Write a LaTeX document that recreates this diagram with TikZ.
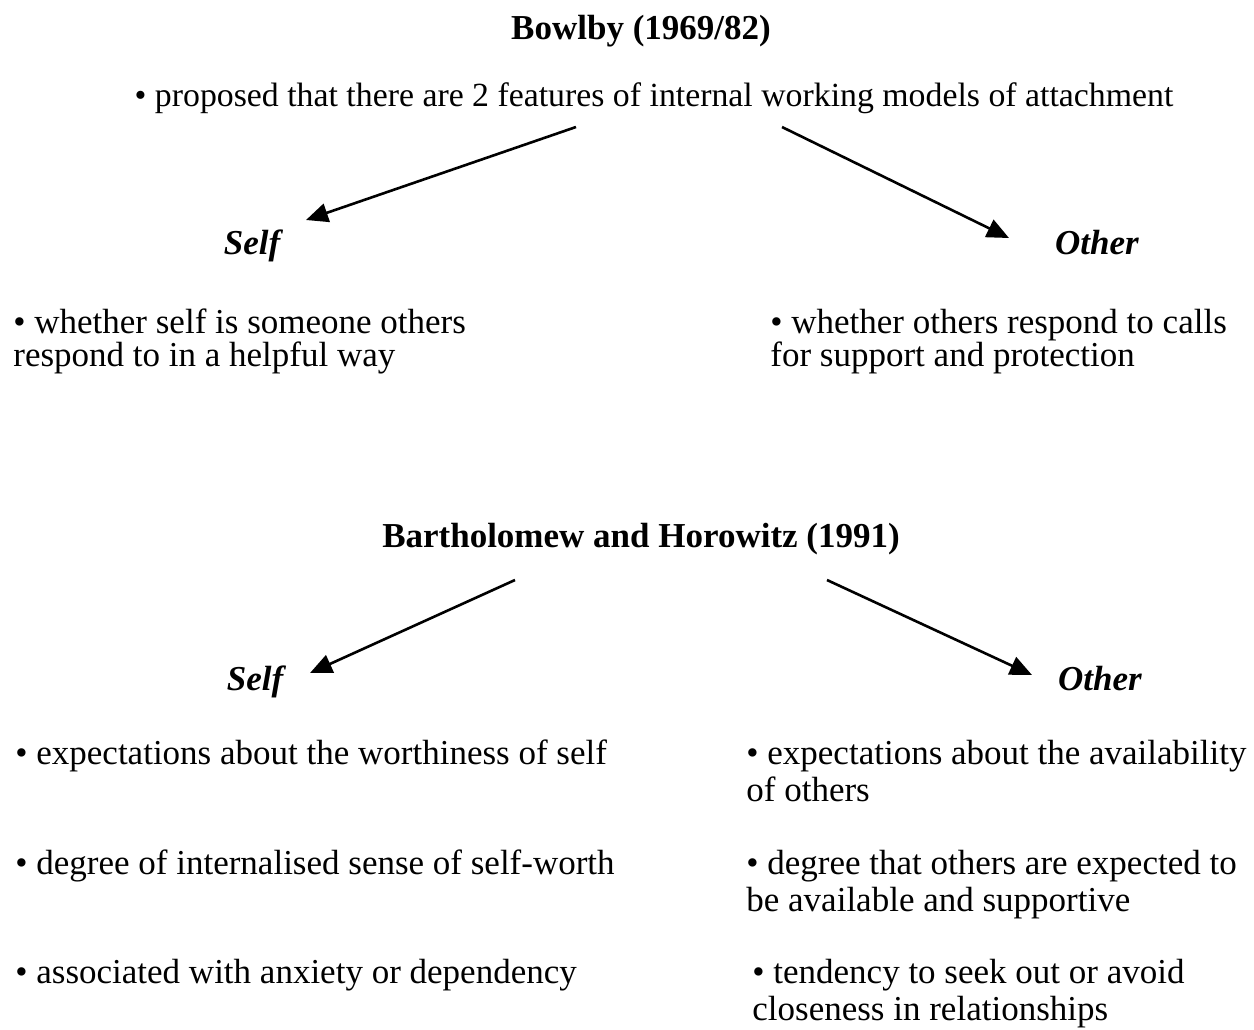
\documentclass[tikz,border=0pt]{standalone}
\usepackage{fontspec}
\setmainfont{Liberation Serif}
\usepackage{tikz}
\usetikzlibrary{arrows.meta}

\tikzset{
  txt/.style={inner sep=0pt, font=\fontsize{17.5}{16.5}\selectfont, align=left, anchor=base west},
  txtwide/.style={txt, font=\fontsize{17.5}{18.5}\selectfont},
  ttl/.style={inner sep=0pt, font=\fontsize{17.5}{16.5}\selectfont\bfseries, anchor=base},
  side/.style={inner sep=0pt, font=\fontsize{17.5}{16.5}\selectfont\bfseries\itshape, anchor=base},
  arr/.style={-{Triangle[length=11pt,width=9.5pt]}, line width=1.3pt}
}

\begin{document}
\begin{tikzpicture}[x=0.5pt,y=-0.5pt]
\useasboundingbox (0,0) rectangle (1254,1029);

% Bowlby
\node[ttl] (bowlby) at (641,39) {Bowlby (1969/82)};
\node[txt, anchor=base, font=\fontsize{16.9}{16.5}\selectfont] (prop) at (654,106) {\textbullet\ proposed that there are 2 features of internal working models of attachment};

\coordinate (b1s) at (576,127); \coordinate (b1e) at (306,220);
\coordinate (b2s) at (782,127); \coordinate (b2e) at (1009,238);
\draw [arr] (b1s) -- (b1e);
\draw [arr] (b2s) -- (b2e);

\node[side] (selfA) at (252,254) {Self};
\node[side] (otherA) at (1097,254) {Other};

% last line baselines
\node[txt] (selfAtxt) at (13,366) {\textbullet\ whether self is someone others\\respond to in a helpful way};
\node[txt] (otherAtxt) at (770,366) {\textbullet\ whether others respond to calls\\for support and protection};

% Bartholomew and Horowitz
\node[ttl] (barth) at (641,547) {Bartholomew and Horowitz (1991)};

\coordinate (h1s) at (515,580); \coordinate (h1e) at (310,673);
\coordinate (h2s) at (827,580); \coordinate (h2e) at (1032,675);
\draw [arr] (h1s) -- (h1e);
\draw [arr] (h2s) -- (h2e);

\node[side] (selfB) at (255,690) {Self};
\node[side] (otherB) at (1100,690) {Other};

\node[txt] (s1) at (15,764) {\textbullet\ expectations about the worthiness of self};
\node[txt] (s2) at (15,874) {\textbullet\ degree of internalised sense of self-worth};
\node[txt] (s3) at (15,983) {\textbullet\ associated with anxiety or dependency};

\node[txtwide] (o1) at (746,801) {\textbullet\ expectations about the availability\\of others};
\node[txtwide] (o2) at (746,911) {\textbullet\ degree that others are expected to\\be available and supportive};
\node[txtwide] (o3) at (752,1020) {\textbullet\ tendency to seek out or avoid\\closeness in relationships};

\end{tikzpicture}
\end{document}
